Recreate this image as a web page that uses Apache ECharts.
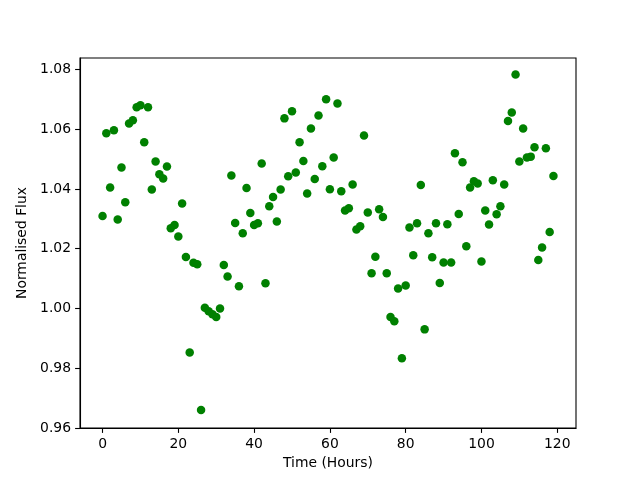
<!DOCTYPE html>
<html>
<head>
<meta charset="utf-8">
<script src="https://cdn.jsdelivr.net/npm/echarts@6/dist/echarts.min.js"></script>
<style>html,body{margin:0;padding:0;background:#fff}#c{width:640px;height:480px}</style>
</head>
<body>
<div id="c"></div>
<script>
const hours = [];
for (let i = 0; i < 120; i++) hours.push(i);
const flux = [
  1.0309, 1.0586, 1.0405, 1.0596, 1.0298, 1.0472, 1.0355, 1.0619, 1.0630, 1.0673,
  1.0680, 1.0556, 1.0673, 1.0398, 1.0492, 1.0449, 1.0435, 1.0475, 1.0268, 1.0279,
  1.0241, 1.0351, 1.0172, 0.9853, 1.0153, 1.0148, 0.9660, 1.0002, 0.9991, 0.9981,
  0.9971, 1.0000, 1.0145, 1.0107, 1.0445, 1.0286, 1.0074, 1.0252, 1.0403, 1.0319,
  1.0279, 1.0285, 1.0485, 1.0084, 1.0342, 1.0373, 1.0291, 1.0398, 1.0636, 1.0442,
  1.0660, 1.0455, 1.0556, 1.0493, 1.0385, 1.0602, 1.0433, 1.0646, 1.0476, 1.0700,
  1.0399, 1.0505, 1.0686, 1.0392, 1.0328, 1.0335, 1.0415, 1.0264, 1.0275, 1.0579,
  1.0321, 1.0118, 1.0173, 1.0332, 1.0306, 1.0118, 0.9971, 0.9957, 1.0067, 0.9833,
  1.0077, 1.0271, 1.0178, 1.0285, 1.0413, 0.9930, 1.0252, 1.0171, 1.0285, 1.0085,
  1.0154, 1.0282, 1.0154, 1.0519, 1.0316, 1.0489, 1.0208, 1.0405, 1.0426, 1.0418,
  1.0157, 1.0328, 1.0281, 1.0429, 1.0315, 1.0342, 1.0415, 1.0627, 1.0656, 1.0783,
  1.0492, 1.0602, 1.0505, 1.0508, 1.0539, 1.0162, 1.0204, 1.0536, 1.0256, 1.0443
];
const xTicks = [0, 20, 40, 60, 80, 100, 120];
const yTicks = [0.96, 0.98, 1.00, 1.02, 1.04, 1.06, 1.08];

const points = hours.map((h, i) => [h, flux[i]]);
const font = 'DejaVu Sans';
const chart = echarts.init(document.getElementById('c'), null, {renderer: 'canvas'});
chart.setOption({
  animation: false,
  backgroundColor: '#fff',
  grid: {left: 80, right: 64, top: 58, bottom: 52, show: true, borderColor: '#000', borderWidth: 1.1, backgroundColor: 'transparent'},
  xAxis: {
    type: 'value', min: -5.95, max: 124.95,
    name: 'Time (Hours)', nameLocation: 'middle', nameGap: 27,
    nameTextStyle: {fontFamily: font, fontSize: 13.9, color: '#000'},
    axisLine: {show: true, onZero: false, lineStyle: {color: '#000', width: 1.1}},
    axisTick: {show: true, length: 4.9, lineStyle: {color: '#000', width: 1.1}, customValues: xTicks},
    axisLabel: {fontFamily: font, fontSize: 13.9, color: '#000', margin: 9, customValues: xTicks, formatter: v => String(v)},
    splitLine: {show: false}
  },
  yAxis: {
    type: 'value', min: 0.96, max: 1.0838,
    name: 'Normalised Flux', nameLocation: 'middle', nameGap: 45, nameRotate: 90,
    nameTextStyle: {fontFamily: font, fontSize: 13.9, color: '#000'},
    axisLine: {show: true, onZero: false, lineStyle: {color: '#000', width: 1.1}},
    axisTick: {show: true, length: 4.9, lineStyle: {color: '#000', width: 1.1}, customValues: yTicks},
    axisLabel: {fontFamily: font, fontSize: 13.9, color: '#000', margin: 9, customValues: yTicks, formatter: v => v.toFixed(2)},
    splitLine: {show: false}
  },
  series: [{
    type: 'scatter',
    data: points,
    symbol: 'circle',
    symbolSize: 8.5,
    itemStyle: {color: '#008000', opacity: 1}
  }]
});
</script>
</body>
</html>
